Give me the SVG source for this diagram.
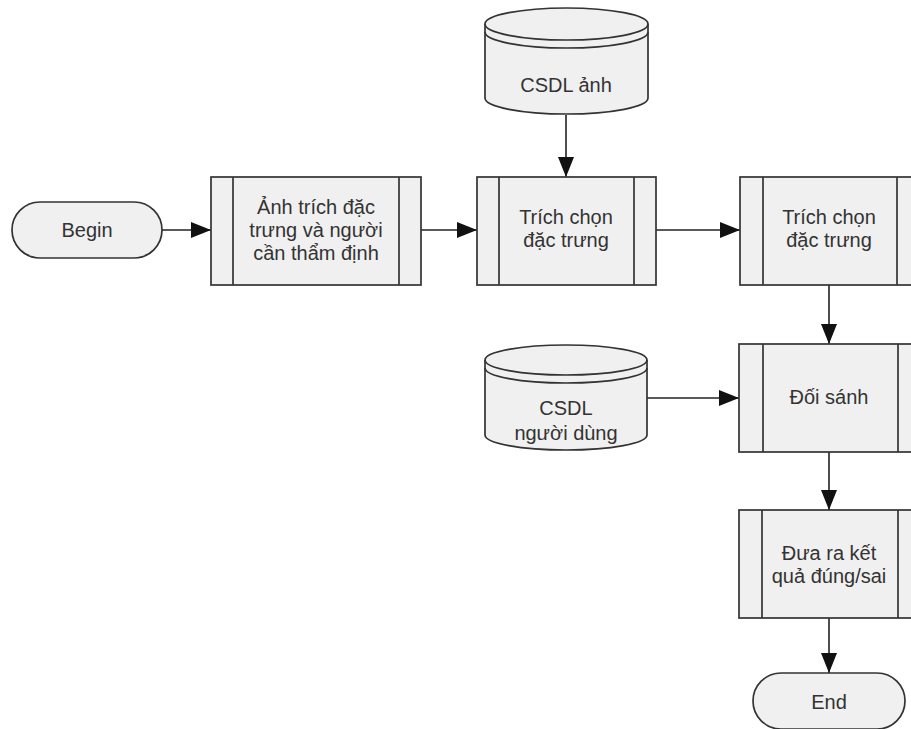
<svg xmlns="http://www.w3.org/2000/svg" width="911" height="729" viewBox="0 0 911 729">
  <style>
    .shape { fill: #f0f0f0; stroke: #333; stroke-width: 1.7; }
    .line { fill: none; stroke: #333; stroke-width: 1.7; }
    .edge { fill: none; stroke: #222; stroke-width: 1.6; marker-end: url(#arrow); }
    text { font-family: "Liberation Sans", Arial, sans-serif; font-size: 20px; fill: #333; text-anchor: middle; }
  </style>
  <defs>
    <marker id="arrow" viewBox="0 0 20 16" refX="20" refY="8" markerWidth="20" markerHeight="16" markerUnits="userSpaceOnUse" orient="auto">
      <path d="M0,0 L20,8 L0,16 Z" fill="#111"/>
    </marker>
  </defs>
  <rect width="911" height="729" fill="#fff"/>

  <g id="connectors">
    <line class="edge" x1="162" y1="230" x2="211" y2="230"/>
    <line class="edge" x1="421" y1="230" x2="477" y2="230"/>
    <line class="edge" x1="566" y1="115" x2="566" y2="177"/>
    <line class="edge" x1="656" y1="230" x2="740" y2="230"/>
    <line class="edge" x1="829" y1="285" x2="829" y2="344"/>
    <line class="edge" x1="647" y1="398" x2="739" y2="398"/>
    <line class="edge" x1="829" y1="452" x2="829" y2="510"/>
    <line class="edge" x1="829" y1="618" x2="829" y2="673"/>
  </g>

  <g id="begin">
    <rect class="shape" x="12" y="202" width="150" height="56" rx="28"/>
    <text x="87" y="237">Begin</text>
  </g>

  <g id="anh-trich">
    <rect class="shape" x="211" y="177" width="210" height="108"/>
    <line class="line" x1="233" y1="177" x2="233" y2="285"/>
    <line class="line" x1="399" y1="177" x2="399" y2="285"/>
    <text x="316" y="214">Ảnh trích đặc</text>
    <text x="316" y="237">trưng và người</text>
    <text x="316" y="260">cần thẩm định</text>
  </g>

  <g id="csdl-anh">
    <path class="shape" d="M485,24 L485,98 A81.5,16 0 0 0 648,98 L648,24 A81.5,16 0 0 0 485,24 Z"/>
    <path class="line" d="M485,24 A81.5,16 0 0 0 648,24"/>
    <path class="line" d="M485,32 A81.5,16 0 0 0 648,32"/>
    <text x="566" y="92">CSDL ảnh</text>
  </g>

  <g id="trich-chon-1">
    <rect class="shape" x="477" y="177" width="179" height="108"/>
    <line class="line" x1="499" y1="177" x2="499" y2="285"/>
    <line class="line" x1="634" y1="177" x2="634" y2="285"/>
    <text x="566" y="224">Trích chọn</text>
    <text x="566" y="247">đặc trưng</text>
  </g>

  <g id="trich-chon-2">
    <rect class="shape" x="740" y="177" width="179" height="108"/>
    <line class="line" x1="763" y1="177" x2="763" y2="285"/>
    <line class="line" x1="897" y1="177" x2="897" y2="285"/>
    <text x="829" y="224">Trích chọn</text>
    <text x="829" y="247">đặc trưng</text>
  </g>

  <g id="csdl-nguoi-dung">
    <path class="shape" d="M485,360 L485,435 A81,15 0 0 0 647,435 L647,360 A81,15 0 0 0 485,360 Z"/>
    <path class="line" d="M485,360 A81,15 0 0 0 647,360"/>
    <path class="line" d="M485,368 A81,15 0 0 0 647,368"/>
    <text x="566" y="415">CSDL</text>
    <text x="566" y="440">người dùng</text>
  </g>

  <g id="doi-sanh">
    <rect class="shape" x="739" y="344" width="180" height="108"/>
    <line class="line" x1="763" y1="344" x2="763" y2="452"/>
    <line class="line" x1="898" y1="344" x2="898" y2="452"/>
    <text x="829" y="404">Đối sánh</text>
  </g>

  <g id="dua-ra-ket-qua">
    <rect class="shape" x="739" y="510" width="180" height="108"/>
    <line class="line" x1="762" y1="510" x2="762" y2="618"/>
    <line class="line" x1="898" y1="510" x2="898" y2="618"/>
    <text x="829" y="560">Đưa ra kết</text>
    <text x="829" y="583">quả đúng/sai</text>
  </g>

  <g id="end">
    <rect class="shape" x="753" y="673" width="152" height="56" rx="28"/>
    <text x="829" y="709">End</text>
  </g>
</svg>
